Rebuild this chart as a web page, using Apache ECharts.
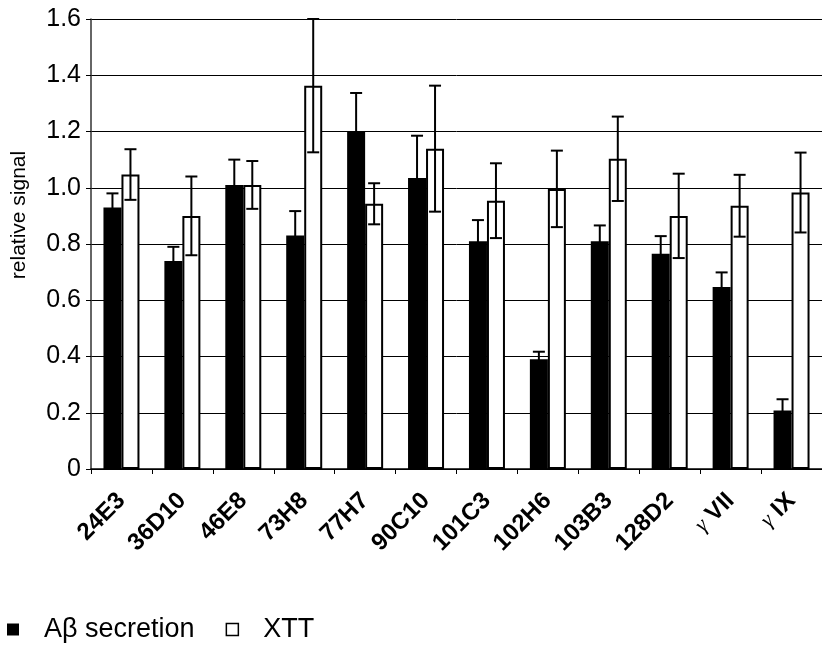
<!DOCTYPE html>
<html>
<head>
<meta charset="utf-8">
<script src="https://cdn.jsdelivr.net/npm/echarts@6/dist/echarts.min.js"></script>
<style>
  html, body { margin: 0; padding: 0; background: #fff; }
  #chart { width: 822px; height: 652px; }
</style>
</head>
<body>
<div id="chart"></div>
<script>
// ---- data ----
const categories = ['24E3', '36D10', '46E8', '73H8', '77H7', '90C10', '101C3', '102H6', '103B3', '128D2', 'γ VII', 'γ IX'];
const abetaValues = [0.93, 0.74, 1.01, 0.83, 1.20, 1.035, 0.81, 0.39, 0.81, 0.765, 0.647, 0.208];
const abetaErrors = [0.05, 0.05, 0.09, 0.087, 0.137, 0.15, 0.075, 0.027, 0.056, 0.063, 0.052, 0.04];
const xttValues = [1.047, 0.90, 1.01, 1.363, 0.943, 1.139, 0.954, 0.996, 1.103, 0.90, 0.936, 0.983];
const xttErrors = [0.09, 0.14, 0.085, 0.237, 0.073, 0.224, 0.133, 0.136, 0.15, 0.15, 0.11, 0.142];
const seriesNames = ['Aβ secretion', 'XTT'];
const yAxisName = 'relative signal';
const yMin = 0, yMax = 1.6, yStep = 0.2;

const FONT = 'Arial, "Liberation Sans", Helvetica, sans-serif';
const BAR_W = 18;

function errData(vals, errs) {
  return vals.map((v, i) => [i, v - errs[i], v + errs[i]]);
}
function errRender(offset) {
  return function (params, api) {
    const i = api.value(0);
    const lo = api.coord([i, api.value(1)]);
    const hi = api.coord([i, api.value(2)]);
    const x = lo[0] + offset;
    const cap = 6;
    const st = { stroke: '#000', lineWidth: 2 };
    return {
      type: 'group',
      children: [
        { type: 'line', shape: { x1: x, y1: lo[1], x2: x, y2: hi[1] }, style: st },
        { type: 'line', shape: { x1: x - cap, y1: hi[1], x2: x + cap, y2: hi[1] }, style: st },
        { type: 'line', shape: { x1: x - cap, y1: lo[1], x2: x + cap, y2: lo[1] }, style: st }
      ]
    };
  };
}

const chart = echarts.init(document.getElementById('chart'), null, { renderer: 'canvas' });
chart.setOption({
  animation: false,
  backgroundColor: '#fff',
  textStyle: { fontFamily: FONT, color: '#000' },
  grid: { left: 91, right: -8, top: 19, bottom: 183, containLabel: false },
  legend: {
    left: 7,
    top: 616,
    padding: 0,
    itemWidth: 12,
    itemHeight: 12,
    itemGap: 31,
    icon: 'rect',
    textStyle: { fontFamily: FONT, fontSize: 27, color: '#000', padding: [0, 0, 0, 20] },
    data: [
      { name: seriesNames[0], itemStyle: { color: '#000', borderWidth: 0 } },
      { name: seriesNames[1], itemStyle: { color: '#fff', borderColor: '#000', borderWidth: 1.5 } }
    ]
  },
  xAxis: {
    type: 'category',
    data: categories,
    axisLine: { lineStyle: { color: '#000', width: 1.5 } },
    axisTick: { show: true, length: 5, lineStyle: { color: '#000' }, alignWithLabel: false },
    axisLabel: {
      rotate: 45,
      margin: 28,
      interval: 0,
      fontFamily: FONT,
      fontWeight: 'bold',
      fontSize: 24,
      color: '#000',
      formatter: function (v) {
        if (v.startsWith('γ')) {
          return '{g|γ} {b|' + v.slice(2) + '}';
        }
        return v;
      },
      rich: {
        g: { fontFamily: '"Liberation Serif", "Times New Roman", serif', fontStyle: 'italic', fontWeight: 'normal', fontSize: 22, color: '#000' },
        b: { fontFamily: FONT, fontWeight: 'bold', fontSize: 24, color: '#000' }
      }
    },
    splitLine: { show: false }
  },
  yAxis: {
    type: 'value',
    min: yMin,
    max: yMax,
    interval: yStep,
    name: yAxisName,
    nameLocation: 'middle',
    nameRotate: 90,
    nameGap: 61,
    nameTextStyle: { fontFamily: FONT, fontSize: 21, color: '#000', padding: [0, 0, 0, 58] },
    axisLine: { show: true, lineStyle: { color: '#333', width: 1.5 } },
    axisTick: { show: true, length: 5, lineStyle: { color: '#000' } },
    axisLabel: {
      margin: 10,
      fontFamily: FONT,
      fontSize: 25,
      color: '#000',
      formatter: function (v) { return v === 0 ? '0' : v.toFixed(1); }
    },
    splitLine: { show: true, lineStyle: { color: '#000', width: 1 } }
  },
  series: [
    {
      name: seriesNames[0],
      type: 'bar',
      data: abetaValues,
      barWidth: BAR_W,
      barGap: '0%',
      itemStyle: { color: '#000', borderColor: '#000', borderWidth: 0 }
    },
    {
      name: seriesNames[1],
      type: 'bar',
      data: xttValues,
      barWidth: BAR_W,
      barGap: '0%',
      itemStyle: { color: '#fff', borderColor: '#000', borderWidth: 2 }
    },
    {
      name: 'abetaErr',
      type: 'custom',
      renderItem: errRender(-BAR_W / 2),
      data: errData(abetaValues, abetaErrors),
      encode: { x: 0, y: [1, 2] },
      z: 5
    },
    {
      name: 'xttErr',
      type: 'custom',
      renderItem: errRender(BAR_W / 2),
      data: errData(xttValues, xttErrors),
      encode: { x: 0, y: [1, 2] },
      z: 5
    }
  ]
});
</script>
</body>
</html>
